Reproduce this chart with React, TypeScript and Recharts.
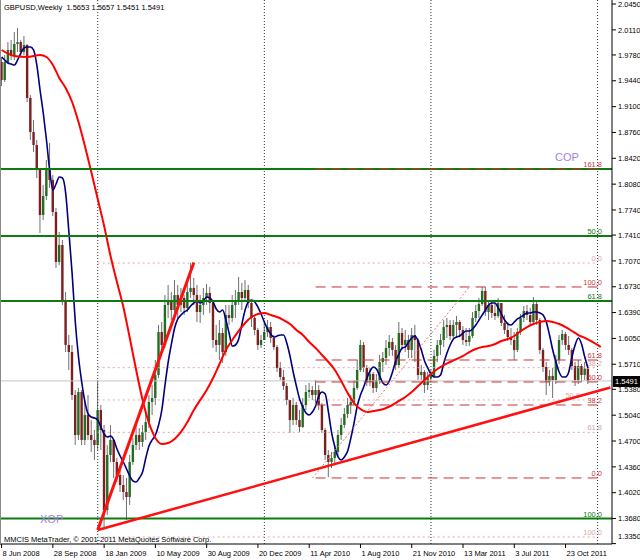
import { ComposedChart, Bar, Line, XAxis, YAxis, ReferenceLine } from "recharts";

const FONT = '"Liberation Sans", Arial, sans-serif';

// weekly GBPUSD, first bar = week of 8 Jun 2008; open of each bar = previous close
const firstOpen = 1.9687;
const closes = [
  1.945, 1.9687, 1.9845, 1.9766, 1.9924, 1.995, 1.9819, 1.9911, 1.9214, 1.8766,
  1.8595, 1.8266, 1.7674, 1.7924, 1.8266, 1.8135, 1.7713, 1.7056, 1.7279, 1.6556,
  1.5964, 1.5871, 1.5306, 1.4779, 1.5345, 1.4714, 1.5042, 1.4779, 1.4714, 1.4648,
  1.5108, 1.4845, 1.3792, 1.4516, 1.4714, 1.4424, 1.4253, 1.4121, 1.4029, 1.3963,
  1.4424, 1.4648, 1.4779, 1.4687, 1.4819, 1.495, 1.5214, 1.5266, 1.5569, 1.6135,
  1.5964, 1.649, 1.6556, 1.6424, 1.6621, 1.649, 1.6582, 1.645, 1.6661, 1.6714,
  1.6621, 1.6398, 1.649, 1.6582, 1.6648, 1.6516, 1.6029, 1.5964, 1.6121, 1.5871,
  1.6358, 1.6319, 1.649, 1.6556, 1.6661, 1.6582, 1.6687, 1.6516, 1.6319, 1.6161,
  1.5964, 1.6029, 1.6135, 1.62, 1.6056, 1.5937, 1.5661, 1.5543, 1.5424, 1.524,
  1.4977, 1.5174, 1.4977, 1.4885, 1.5174, 1.5345, 1.5371, 1.5306, 1.5371, 1.5174,
  1.4845, 1.4516, 1.4424, 1.4477, 1.4556, 1.4779, 1.4911, 1.5056, 1.5174, 1.5214,
  1.5398, 1.5635, 1.5964, 1.5661, 1.5477, 1.5582, 1.5398, 1.5503, 1.574, 1.5792,
  1.5924, 1.6003, 1.5898, 1.57, 1.6121, 1.5964, 1.6029, 1.5898, 1.6095, 1.6029,
  1.5569, 1.5608, 1.5437, 1.5529, 1.5556, 1.5819, 1.5964, 1.6029, 1.62, 1.6227,
  1.6082, 1.6227, 1.6266, 1.6161, 1.6029, 1.6003, 1.6082, 1.6319, 1.6411, 1.6503,
  1.6674, 1.6398, 1.649, 1.6385, 1.6345, 1.6516, 1.6253, 1.6161, 1.6069, 1.6029,
  1.5898, 1.6135, 1.6319, 1.6411, 1.6358, 1.6266, 1.6503, 1.6292, 1.5898, 1.5674,
  1.5477, 1.5556, 1.5503, 1.5766, 1.6029, 1.6108, 1.5964, 1.5898, 1.5687, 1.5503,
  1.5687, 1.5569, 1.5653, 1.5491,
];
const highs = [
  1.974, 1.9779, 1.995, 1.9977, 2.0082, 2.0135, 1.9977, 2.0029, 1.9924, 1.9253,
  1.8924, 1.8661, 1.8266, 1.8069, 1.8398, 1.8621, 1.82, 1.7766, 1.745, 1.7345,
  1.6661, 1.6095, 1.5964, 1.5371, 1.5398, 1.5371, 1.524, 1.5306, 1.4977, 1.4845,
  1.5503, 1.5174, 1.4911, 1.4648, 1.4911, 1.4714, 1.4477, 1.4345, 1.4253, 1.4214,
  1.4516, 1.474, 1.4911, 1.4871, 1.4911, 1.5108, 1.5306, 1.5437, 1.5766, 1.6227,
  1.6266, 1.6621, 1.6753, 1.6661, 1.6819, 1.6753, 1.6714, 1.6621, 1.6792, 1.7042,
  1.6845, 1.6753, 1.6621, 1.6714, 1.6766, 1.6727, 1.6556, 1.6227, 1.6292, 1.6187,
  1.649, 1.649, 1.6621, 1.6687, 1.6858, 1.6779, 1.6819, 1.6753, 1.6556, 1.6358,
  1.6187, 1.6095, 1.6266, 1.6292, 1.6266, 1.6095, 1.5964, 1.574, 1.5635, 1.5464,
  1.524, 1.5266, 1.5214, 1.5108, 1.5266, 1.5437, 1.5464, 1.5424, 1.5503, 1.5437,
  1.52, 1.4871, 1.4582, 1.4556, 1.4648, 1.4845, 1.5003, 1.5135, 1.5266, 1.5306,
  1.5503, 1.5766, 1.6029, 1.6003, 1.57, 1.5661, 1.5608, 1.5582, 1.5832, 1.5871,
  1.6029, 1.6095, 1.6056, 1.5964, 1.6266, 1.6187, 1.6161, 1.6095, 1.6187, 1.6227,
  1.6056, 1.57, 1.5635, 1.5608, 1.5635, 1.5898, 1.6029, 1.6108, 1.6292, 1.6319,
  1.6292, 1.6292, 1.6345, 1.6292, 1.6213, 1.6187, 1.6187, 1.6398, 1.649, 1.6582,
  1.6727, 1.6727, 1.6556, 1.6529, 1.6516, 1.6582, 1.6516, 1.6358, 1.6266, 1.6187,
  1.6135, 1.6187, 1.6371, 1.6477, 1.649, 1.645, 1.6595, 1.6529, 1.6319, 1.5924,
  1.574, 1.5635, 1.5661, 1.5832, 1.6095, 1.6161, 1.6135, 1.6082, 1.5924, 1.574,
  1.5766, 1.5713, 1.574, 1.5657,
];
const lows = [
  1.9371, 1.9424, 1.9661, 1.9714, 1.9714, 1.9819, 1.9766, 1.9779, 1.9161, 1.8661,
  1.8503, 1.8161, 1.7437, 1.7608, 1.7871, 1.8029, 1.7661, 1.6977, 1.7016, 1.649,
  1.5871, 1.5635, 1.524, 1.4648, 1.4714, 1.4648, 1.4648, 1.4714, 1.4556, 1.445,
  1.4582, 1.4582, 1.3569, 1.3727, 1.4424, 1.4214, 1.4161, 1.4029, 1.3924, 1.3661,
  1.3858, 1.4385, 1.4582, 1.4582, 1.4621, 1.4714, 1.4871, 1.5042, 1.5174, 1.5529,
  1.5871, 1.5924, 1.6319, 1.6292, 1.6358, 1.6319, 1.6398, 1.6358, 1.6398, 1.6582,
  1.649, 1.6266, 1.6253, 1.6358, 1.649, 1.6385, 1.5924, 1.5871, 1.5766, 1.5727,
  1.5819, 1.6227, 1.6266, 1.6319, 1.649, 1.6424, 1.6556, 1.645, 1.62, 1.6095,
  1.5898, 1.5924, 1.6029, 1.6069, 1.599, 1.5898, 1.5608, 1.5503, 1.5371, 1.5174,
  1.4806, 1.4911, 1.4911, 1.4819, 1.4871, 1.5108, 1.5266, 1.524, 1.52, 1.5108,
  1.4806, 1.445, 1.4227, 1.4345, 1.4385, 1.4503, 1.4714, 1.4871, 1.5003, 1.5056,
  1.5174, 1.5371, 1.5608, 1.5608, 1.5424, 1.5424, 1.5332, 1.5345, 1.5451, 1.5608,
  1.57, 1.5819, 1.5819, 1.5635, 1.5661, 1.5898, 1.5871, 1.5792, 1.5792, 1.574,
  1.5503, 1.5503, 1.5332, 1.5371, 1.5477, 1.5529, 1.574, 1.5832, 1.5937, 1.6056,
  1.6029, 1.6056, 1.6056, 1.6082, 1.5964, 1.595, 1.595, 1.6056, 1.6266, 1.6319,
  1.6477, 1.6345, 1.6292, 1.6319, 1.6292, 1.6319, 1.6213, 1.6108, 1.6016, 1.5964,
  1.5766, 1.5871, 1.6095, 1.6266, 1.6292, 1.6213, 1.624, 1.6227, 1.5845, 1.5608,
  1.5306, 1.5424, 1.5266, 1.5451, 1.5713, 1.5964, 1.5898, 1.5832, 1.5635, 1.5424,
  1.5451, 1.5477, 1.5503, 1.5451,
];

// fast moving average (blue)
const fastMa = [
  1.9753, 1.9714, 1.9674, 1.9661, 1.9647, 1.9714, 1.9805, 1.9871, 1.9884, 1.9884,
  1.9845, 1.9647, 1.9319, 1.9016, 1.8661, 1.8266, 1.8003, 1.8082, 1.8174, 1.8161,
  1.7963, 1.745, 1.691, 1.6266, 1.5806, 1.5477, 1.5214, 1.5056, 1.5016, 1.5003,
  1.4977, 1.4885, 1.4792, 1.4753, 1.4766, 1.4714, 1.4595, 1.4503, 1.4424, 1.4332,
  1.424, 1.4174, 1.4161, 1.4214, 1.4292, 1.4477, 1.4635, 1.4714, 1.4779, 1.4911,
  1.5108, 1.5437, 1.574, 1.5977, 1.6187, 1.6306, 1.6358, 1.6398, 1.6424, 1.6477,
  1.6516, 1.6542, 1.6516, 1.6542, 1.6595, 1.6582, 1.6529, 1.6437, 1.6398, 1.6424,
  1.6292, 1.6121, 1.595, 1.5964, 1.6042, 1.624, 1.6424, 1.6529, 1.6556, 1.6529,
  1.6463, 1.6371, 1.6266, 1.6174, 1.6108, 1.6069, 1.6082, 1.6095, 1.6095, 1.599,
  1.5819, 1.5608, 1.5424, 1.5253, 1.5148, 1.5069, 1.5042, 1.5082, 1.5161, 1.5292,
  1.5345, 1.5319, 1.5082, 1.4806, 1.4621, 1.449, 1.445, 1.449, 1.4569, 1.474,
  1.4937, 1.5161, 1.5306, 1.5411, 1.5529, 1.5621, 1.5674, 1.5648, 1.5556, 1.5464,
  1.5437, 1.549, 1.5608, 1.5753, 1.5845, 1.5924, 1.5937, 1.6003, 1.6056, 1.6082,
  1.6016, 1.5898, 1.5753, 1.5661, 1.5582, 1.5543, 1.5543, 1.5569, 1.5727, 1.5858,
  1.5964, 1.6042, 1.6069, 1.6082, 1.6121, 1.6148, 1.6148, 1.6174, 1.6227, 1.6292,
  1.6358, 1.6424, 1.649, 1.6516, 1.6516, 1.645, 1.6371, 1.6292, 1.624, 1.6227,
  1.6266, 1.6306, 1.6332, 1.6358, 1.6385, 1.6385, 1.6398, 1.6398, 1.6385, 1.6358,
  1.6266, 1.6095, 1.5898, 1.574, 1.5608, 1.5543, 1.5543, 1.5608, 1.5805, 1.5964,
  1.6056, 1.5977, 1.5805, 1.5661,
];

// slow moving average (red), sampled every other bar
const slowMaIdx = [
  0, 4, 8, 12, 14, 16, 18, 20, 22, 24, 26, 28, 30, 32, 34, 36, 38, 40, 42, 44, 46, 48,
  50, 52, 54, 56, 58, 60, 62, 64, 66, 68, 70, 72, 74, 76, 78, 80, 82, 84, 86, 88, 90,
  92, 94, 96, 98, 100, 102, 104, 106, 108, 110, 112, 114, 116, 118, 120, 122, 124, 126,
  128, 130, 132, 134, 136, 138, 140, 142, 144, 146, 148, 150, 152, 154, 156, 158, 160,
  162, 164, 166, 168, 170, 172, 174, 176, 178, 180, 182, 184, 186, 187,
];
const slowMaVal = [
  1.9845, 1.9766, 1.9753, 1.9779, 1.9753, 1.9648, 1.9477, 1.9345, 1.9161, 1.8898, 1.8582,
  1.824, 1.7885, 1.7529, 1.7135, 1.6792, 1.6464, 1.6056, 1.5635, 1.524, 1.4937, 1.474,
  1.4661, 1.4674, 1.4727, 1.4819, 1.495, 1.5108, 1.524, 1.5371, 1.5529, 1.5713, 1.5898,
  1.6029, 1.6148, 1.6253, 1.6332, 1.6371, 1.6385, 1.6358, 1.6332, 1.6292, 1.624,
  1.6161, 1.6095, 1.6003, 1.5924, 1.5832, 1.574, 1.5635, 1.549, 1.5332, 1.52, 1.5121,
  1.5082, 1.5095, 1.5108, 1.5135, 1.5174, 1.5227, 1.5279,
  1.5345, 1.5424, 1.5503, 1.5582, 1.5648, 1.57, 1.574, 1.5779, 1.5819, 1.5871, 1.5911,
  1.5937, 1.595, 1.5977, 1.6016, 1.6043, 1.6082,
  1.6148, 1.62, 1.624, 1.6266, 1.6279, 1.6266, 1.624, 1.62, 1.6148, 1.6095, 1.6056,
  1.6016, 1.5964, 1.5937,
];

const slotCount = 191;
const xTickIdx = [0, 16, 32, 48, 64, 80, 96, 112, 128, 144, 160, 176];
const xTickLabels = [
  "8 Jun 2008", "28 Sep 2008", "18 Jan 2009", "10 May 2009", "30 Aug 2009", "20 Dec 2009",
  "11 Apr 2010", "1 Aug 2010", "21 Nov 2010", "13 Mar 2011", "3 Jul 2011", "23 Oct 2011",
];
const yTicks = [
  2.045, 2.011, 1.978, 1.944, 1.91, 1.876, 1.842, 1.808, 1.774, 1.741, 1.707,
  1.673, 1.639, 1.605, 1.571, 1.538, 1.504, 1.47, 1.436, 1.402, 1.368, 1.335,
];
const yearSepIdx = [30, 82, 134, 186];
const lastPrice = 1.5491;

// fibonacci sets
const greenFibVals = [1.8279, 1.7397, 1.6542, 1.368];
const greenFibText = ["", "50.0", "61.8", "100.0"];
const redFibVals = [1.8279, 1.6727, 1.5766, 1.5477, 1.5174, 1.4214];
const redFibText = ["161.8", "100.0", "61.8", "50.0", "38.2", "0.0"];
const redFibFrom = 98;
const redFibDiag = [{ x: 97, y: 1.4214 }, { x: 146, y: 1.6727 }];
const lightFibVals = [1.7042, 1.5665, 1.524, 1.4814, 1.3437];
const lightFibText = ["0.0", "38.2", "50.0", "61.8", "100.0"];
const lightFibFrom = 30;
const fibTo = 186;

// trend lines
const steepTrend = [{ x: 30, y: 1.3529 }, { x: 60, y: 1.705 }];
const baseTrend = [{ x: 30, y: 1.3529 }, { x: 190, y: 1.5405 }];

const rows = Array.from({ length: slotCount }, (_, i) => {
  const has = i < closes.length;
  const si = slowMaIdx.indexOf(i);
  return {
    i,
    range: has ? [lows[i], highs[i]] : null,
    o: has ? (i === 0 ? firstOpen : closes[i - 1]) : null,
    h: has ? highs[i] : null,
    l: has ? lows[i] : null,
    c: has ? closes[i] : null,
    fast: i < fastMa.length ? fastMa[i] : null,
    slow: si >= 0 ? slowMaVal[si] : null,
  };
});

function Candle(props: any) {
  const { x, y, width, height } = props;
  const p = props.payload || props;
  if (p == null || p.c == null) return null;
  const top = Math.min(y, y + height);
  const bot = Math.max(y, y + height);
  const span = p.h - p.l;
  const py = (v: number) => (span > 0 ? top + ((p.h - v) / span) * (bot - top) : top);
  const cx = x + width / 2;
  const up = p.c >= p.o;
  const bTop = py(Math.max(p.o, p.c));
  const bBot = py(Math.min(p.o, p.c));
  return (
    <g>
      <line x1={cx} x2={cx} y1={top} y2={bot} stroke="#707070" strokeWidth={1} />
      <rect
        x={cx - 1.2}
        y={bTop}
        width={2.4}
        height={Math.max(1, bBot - bTop)}
        fill={up ? "#236d23" : "#7d1f1f"}
      />
    </g>
  );
}

function LevelTag(props: any) {
  const { viewBox, text, color, right = 602 } = props;
  if (!viewBox || !text) return null;
  return (
    <text x={right} y={viewBox.y - 2} textAnchor="end" fontSize={7.5} fontFamily={FONT} fill={color}>
      {text}
    </text>
  );
}

function DateTick(props: any) {
  const { x, y, payload } = props;
  const k = xTickIdx.indexOf(payload.value);
  return (
    <text x={x + 1} y={y + 6} fontSize={7.5} fontFamily={FONT} fill="#000">
      {k >= 0 ? xTickLabels[k] : ""}
    </text>
  );
}

function PriceTick(props: any) {
  const { x, y, payload } = props;
  const v = payload.value as number;
  const ty = v < 1.34 ? y - 7 : y;
  return (
    <text x={x} y={ty + 2.7} fontSize={7.5} fontFamily={FONT} fill="#000">
      {v.toFixed(4)}
    </text>
  );
}

export default function App() {
  return (
    <div style={{ position: "relative", width: 640, height: 560, background: "#fff", fontFamily: FONT }}>
      <style>{`body{margin:0}`}</style>
      <ComposedChart
        width={640}
        height={560}
        data={rows}
        margin={{ top: 0, right: 0, bottom: 0, left: 0 }}
        barCategoryGap={0}
      >
        <XAxis
          dataKey="i"
          type="category"
          ticks={xTickIdx}
          interval={0}
          height={16}
          tickSize={4}
          tickMargin={2}
          axisLine={{ stroke: "#000" }}
          tickLine={{ stroke: "#000" }}
          tick={<DateTick />}
        />
        <YAxis
          orientation="right"
          width={28}
          domain={[1.3345, 2.0503]}
          allowDataOverflow
          ticks={yTicks}
          interval={0}
          tickSize={4}
          tickMargin={2}
          axisLine={{ stroke: "#000" }}
          tickLine={{ stroke: "#000" }}
          tick={<PriceTick />}
        />

        {yearSepIdx.map((s) => (
          <ReferenceLine key={`sep${s}`} x={s} stroke="#333" strokeDasharray="1 2" />
        ))}
        <ReferenceLine y={lastPrice} stroke="#c4c4c4" />
        {lightFibVals.map((v, k) => (
          <ReferenceLine
            key={`lf${k}`}
            segment={[{ x: lightFibFrom, y: v }, { x: fibTo, y: v }]}
            stroke="#dcaaaa"
            strokeDasharray="2 3"
            label={<LevelTag text={lightFibText[k]} color="#d8a8a8" right={k === 2 ? 580 : 602} />}
          />
        ))}

        <Bar dataKey="range" barSize={3} isAnimationActive={false} shape={(p: any) => <Candle {...p} />} />
        <Line
          dataKey="fast"
          type="monotone"
          stroke="#000080"
          strokeWidth={1.6}
          dot={false}
          activeDot={false}
          isAnimationActive={false}
        />
        <Line
          dataKey="slow"
          type="monotone"
          connectNulls
          stroke="#ff0000"
          strokeWidth={2}
          dot={false}
          activeDot={false}
          isAnimationActive={false}
        />

        {greenFibVals.map((v, k) => (
          <ReferenceLine
            key={`gf${k}`}
            y={v}
            stroke="#0f7a0f"
            strokeWidth={2}
            label={<LevelTag text={greenFibText[k]} color="#127812" />}
          />
        ))}
        {redFibVals.map((v, k) => (
          <ReferenceLine
            key={`rf${k}`}
            segment={[{ x: redFibFrom, y: v }, { x: fibTo, y: v }]}
            stroke="#c93333"
            strokeDasharray="10 6"
            label={<LevelTag text={redFibText[k]} color="#c83c3c" />}
          />
        ))}
        <ReferenceLine segment={redFibDiag} stroke="#e07a7a" strokeDasharray="2 2" />
        <ReferenceLine segment={steepTrend} stroke="#ff1010" strokeWidth={3} />
        <ReferenceLine segment={baseTrend} stroke="#ff1010" strokeWidth={2.5} />
      </ComposedChart>

      <div style={{ position: "absolute", left: 0, top: 0, width: 1, height: 544, background: "#8a8a8a" }} />
      <div style={{ position: "absolute", left: 4, top: 3, fontSize: 7.5, color: "#000", whiteSpace: "pre" }}>
        {"GBPUSD,Weekly  1.5653 1.5657 1.5451 1.5491"}
      </div>
      <div style={{ position: "absolute", left: 40, top: 513, fontSize: 11, color: "#a67fe4" }}>XOP</div>
      <div style={{ position: "absolute", left: 555, top: 151, fontSize: 11, color: "#a67fe4" }}>COP</div>
      <div style={{ position: "absolute", left: 4, top: 535, fontSize: 7.5, color: "#000", whiteSpace: "pre" }}>
        {"MMCIS MetaTrader, \u00a9 2001-2011 MetaQuotes Software Corp."}
      </div>
      <div
        style={{
          position: "absolute",
          left: 613,
          top: 376,
          width: 27,
          height: 11,
          background: "#000",
          color: "#fff",
          fontSize: 7.5,
          lineHeight: "11px",
          paddingLeft: 2,
          boxSizing: "border-box",
        }}
      >
        1.5491
      </div>
    </div>
  );
}
